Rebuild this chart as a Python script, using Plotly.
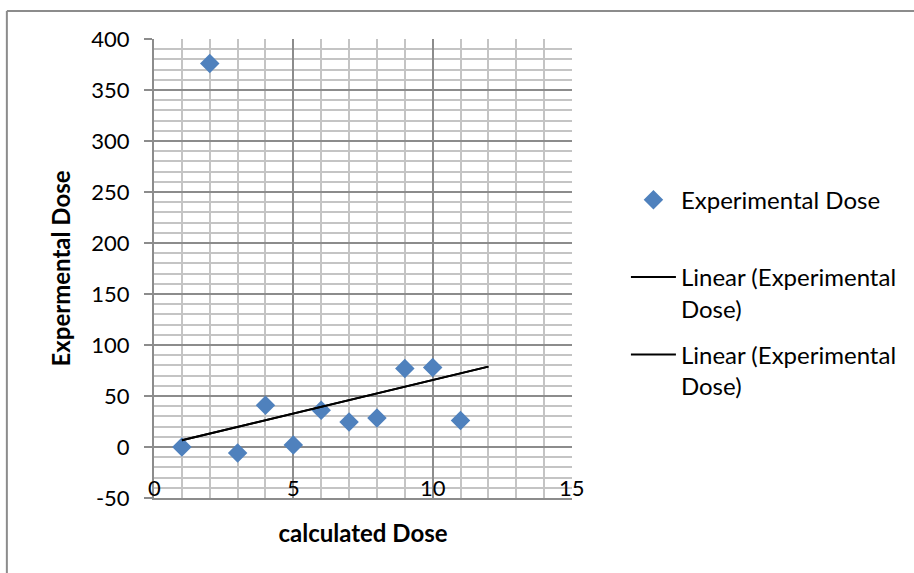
import plotly.graph_objects as go

# Data
calc_dose = [1, 2, 3, 4, 5, 6, 7, 8, 9, 10, 11]
exp_dose = [0, 376, -6, 41, 2, 36, 24.5, 28.5, 77, 78, 26]

# Linear trendline endpoints (as drawn in the reference)
trend_x = [1, 12]
trend_y = [6.6, 78.8]

x_ticks = [0, 5, 10, 15]
x_tick_labels = ["0", "5", "10", "15"]
y_ticks = [-50, 0, 50, 100, 150, 200, 250, 300, 350, 400]
y_tick_labels = ["-50", "0", "50", "100", "150", "200", "250", "300", "350", "400"]

x_range = [0, 15]
y_range = [-50, 400]

FONT = "Lato"
MAJOR = "#8c8c8c"
MINOR = "#c4c4c4"

fig = go.Figure()
fig.add_trace(go.Scatter(
    x=calc_dose, y=exp_dose, mode="markers", name="Experimental Dose<br> ",
    marker=dict(symbol="diamond", size=15, color="#4F81BD"),
    legendgroup="a",
))
fig.add_trace(go.Scatter(
    x=trend_x, y=trend_y, mode="lines", name="Linear (Experimental<br>Dose)",
    line=dict(color="black", width=2), legendgroup="b",
))
fig.add_trace(go.Scatter(
    x=trend_x, y=trend_y, mode="lines", name="Linear (Experimental<br>Dose)",
    line=dict(color="black", width=2), legendgroup="c",
))

# x tick labels sit just inside the plot area, as in the reference
annotations = [
    dict(x=v, y=0, xref="x", yref="paper", text=t, showarrow=False,
         yanchor="middle", xanchor="center", yshift=11,
         font=dict(family=FONT, size=22, color="black"))
    for v, t in zip(x_ticks, x_tick_labels)
]

fig.update_layout(
    width=914, height=573,
    margin=dict(l=154, r=342, t=39, b=75),
    paper_bgcolor="white", plot_bgcolor="white",
    font=dict(family=FONT, size=24, color="black"),
    showlegend=True,
    legend=dict(x=1.129, y=0.698, xanchor="left", yanchor="top",
                font=dict(size=24), traceorder="grouped", tracegroupgap=12,
                itemwidth=45, valign="top"),
    xaxis=dict(
        range=x_range, tickmode="array", tickvals=x_ticks,
        showgrid=True, gridcolor=MAJOR, gridwidth=1.5,
        minor=dict(tickmode="linear", tick0=0, dtick=1, showgrid=True,
                   gridcolor=MINOR, gridwidth=1.5),
        zeroline=False, showline=True, linecolor=MAJOR, linewidth=1.5,
        ticks="", showticklabels=False,
        title=dict(text="<b>calculated Dose</b>", font=dict(size=24), standoff=26),
    ),
    yaxis=dict(
        range=y_range, tickmode="array", tickvals=y_ticks, ticktext=y_tick_labels,
        showgrid=True, gridcolor=MAJOR, gridwidth=1.5,
        minor=dict(tickmode="linear", tick0=0, dtick=10, showgrid=True,
                   gridcolor=MINOR, gridwidth=1.5),
        zeroline=False, showline=True, linecolor=MAJOR, linewidth=2,
        ticks="outside", ticklen=8, tickcolor=MAJOR, tickwidth=1.5,
        ticklabelstandoff=10,
        tickfont=dict(size=22),
        title=dict(text="<b>Expermental Dose</b>", font=dict(size=24), standoff=14),
    ),
    annotations=annotations,
    shapes=[
        dict(type="line", xref="paper", yref="paper", x0=-0.352, x1=1.82,
             y0=1.061, y1=1.061, line=dict(color=MAJOR, width=2)),
        dict(type="line", xref="paper", yref="paper", x0=-0.352, x1=-0.352,
             y0=1.061, y1=-0.17, line=dict(color=MAJOR, width=2)),
    ],
)

fig.write_html("out.html")
